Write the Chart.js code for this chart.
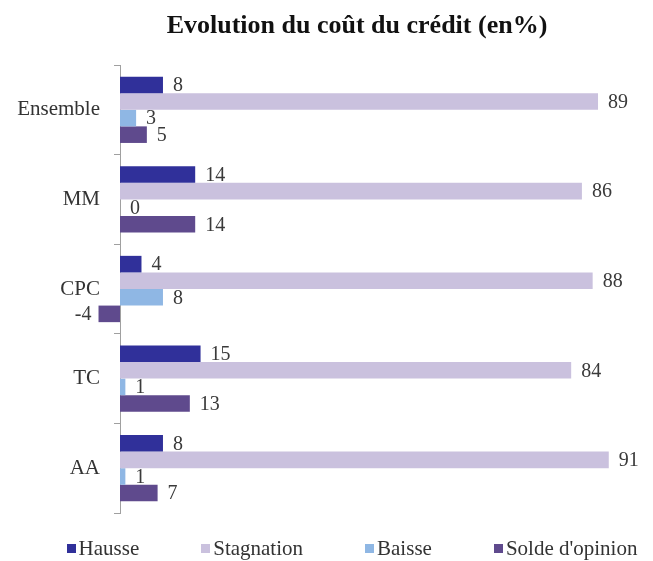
<!DOCTYPE html>
<html>
<head>
<meta charset="utf-8">
<script src="https://cdn.jsdelivr.net/npm/chart.js@4/dist/chart.umd.min.js"></script>
<style>
    html, body { margin: 0; padding: 0; background: #fff; }
    #wrap { position: relative; width: 653px; height: 561px; font-family: "Liberation Serif", "DejaVu Serif", serif; }
    #wrap canvas { position: absolute; left: 0; top: 0; }
    .chart-title {
        position: absolute; left: 0; top: 10px; width: 653px; box-sizing: border-box;
        padding-left: 61px; text-align: center;
        font-size: 26px; line-height: 30px; font-weight: bold; color: #111;
    }
    .chart-legend {
        position: absolute; left: 0; top: 536px; width: 653px; box-sizing: border-box;
        padding-left: 51px; display: flex; justify-content: center;
        font-size: 21px; line-height: 24px; color: #333;
    }
    .legend-item { display: flex; align-items: center; margin-right: 62px; white-space: nowrap; }
    .legend-item:last-child { margin-right: 0; }
    .legend-box { width: 9px; height: 9px; margin-right: 3px; }
</style>
</head>
<body>
<div id="wrap">
    <canvas id="creditChart" width="653" height="561"></canvas>
    <div class="chart-title">Evolution du coût du crédit (en%)</div>
    <div class="chart-legend" id="legend"></div>
</div>
<script>
const categories = ['Ensemble', 'MM', 'CPC', 'TC', 'AA'];
const seriesNames = ['Hausse', 'Stagnation', 'Baisse', "Solde d'opinion"];
const hausse = [8, 14, 4, 15, 8];
const stagnation = [89, 86, 88, 84, 91];
const baisse = [3, 0, 8, 1, 1];
const solde = [5, 14, -4, 13, 7];

const SERIES_COLORS = ['#30309a', '#cac1de', '#8fb7e4', '#5f4a8d'];
const TEXT_COLOR = '#3a3a3a';
const SERIF = '"Liberation Serif", "DejaVu Serif", serif';

// valeurs affichées au bout des barres
const barLabels = {
    id: 'barLabels',
    afterDatasetsDraw(chart) {
        const ctx = chart.ctx;
        ctx.save();
        ctx.font = '20px ' + SERIF;
        ctx.fillStyle = TEXT_COLOR;
        ctx.textBaseline = 'middle';
        chart.data.datasets.forEach((ds, i) => {
            const meta = chart.getDatasetMeta(i);
            meta.data.forEach((bar, j) => {
                const v = ds.data[j];
                if (v < 0) {
                    ctx.textAlign = 'right';
                    ctx.fillText(String(v), bar.x - 7, bar.y + 1);
                } else {
                    ctx.textAlign = 'left';
                    ctx.fillText(String(v), bar.x + 10, bar.y + 1);
                }
            });
        });
        ctx.restore();
    }
};

const allSeries = [hausse, stagnation, baisse, solde];
const datasets = allSeries.map((values, i) => ({
    label: seriesNames[i],
    data: values,
    backgroundColor: SERIES_COLORS[i]
}));

const ctx = document.getElementById('creditChart').getContext('2d');
const chart = new Chart(ctx, {
    type: 'bar',
    data: { labels: categories, datasets: datasets },
    options: {
        indexAxis: 'y',
        responsive: false,
        animation: false,
        layout: { padding: { left: 0, right: 12, top: 65, bottom: 48 } },
        datasets: {
            bar: { barPercentage: 1, categoryPercentage: 0.74, clip: false }
        },
        plugins: {
            title: { display: false },
            legend: { display: false },
            tooltip: { enabled: false }
        },
        scales: {
            x: { display: false, min: 0, max: 97 },
            y: {
                afterFit(scale) { scale.width = 120; },
                border: { color: '#a0a0a0' },
                grid: { drawOnChartArea: false, offset: true, tickLength: 6, color: '#a0a0a0' },
                ticks: { color: '#333', padding: 14, font: { family: SERIF, size: 21 } }
            }
        }
    },
    plugins: [barLabels]
});

// légende en HTML
const legendEl = document.getElementById('legend');
chart.data.datasets.forEach(ds => {
    const item = document.createElement('div');
    item.className = 'legend-item';
    item.innerHTML = `<span class="legend-box" style="background:${ds.backgroundColor}"></span><span>${ds.label}</span>`;
    legendEl.appendChild(item);
});
</script>
</body>
</html>
